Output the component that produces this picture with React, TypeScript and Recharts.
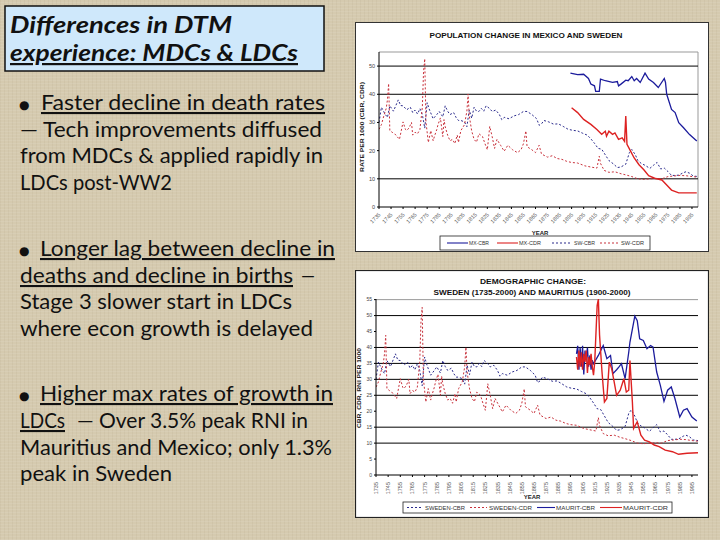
import React from 'react';
import { LineChart, Line, XAxis, YAxis, ReferenceLine } from 'recharts';

// ---------- DATA ----------
const decadeTicks = [1735, 1745, 1755, 1765, 1775, 1785, 1795, 1805, 1815, 1825, 1835, 1845, 1855, 1865, 1875, 1885, 1895, 1905, 1915, 1925, 1935, 1945, 1955, 1965, 1975, 1985, 1995];
const chart1YTicks = [0, 10, 20, 30, 40, 50];
const chart2YTicks = [0, 5, 10, 15, 20, 25, 30, 35, 40, 45, 50, 55];
const chart1Grid = [10, 40, 50];
const chart2Grid = [10, 15, 25, 30, 35, 40, 50];

const swCbrYears = [1735, 1737, 1740, 1742, 1744, 1747, 1750, 1751, 1753, 1755, 1758, 1761, 1763, 1765, 1767, 1769, 1771, 1773, 1775, 1777, 1780, 1783, 1785, 1788, 1790, 1792, 1794, 1797, 1799, 1801, 1803, 1806, 1808, 1810, 1812, 1814, 1816, 1818, 1820, 1822, 1824, 1827, 1829, 1832, 1835, 1837, 1839, 1843, 1847, 1851, 1855, 1858, 1862, 1866, 1868, 1870, 1872, 1876, 1880, 1884, 1888, 1892, 1896, 1900, 1904, 1908, 1911, 1914, 1917, 1920, 1923, 1926, 1930, 1933, 1936, 1940, 1943, 1945, 1948, 1950, 1953, 1956, 1960, 1963, 1966, 1969, 1972, 1975, 1978, 1981, 1984, 1988, 1990, 1993, 1996, 2000];
const swCbrValues = [30, 35.4, 33, 31.8, 35.9, 34, 37, 38, 36, 35.9, 34.5, 35.4, 33.5, 34.4, 33, 34.9, 32.8, 28, 37, 34.4, 31.3, 32.8, 33.9, 32, 35.9, 34, 32.8, 33.5, 31.8, 30.7, 30.7, 30.2, 28.5, 34.4, 31.5, 35.4, 34, 33.9, 35, 34, 35.9, 34.9, 33.9, 34.4, 32.8, 31, 31.8, 31.3, 32.3, 32.8, 33.9, 33.9, 32.8, 31.3, 29, 29.5, 30.7, 30.2, 29.4, 29.5, 28.6, 27.6, 27.2, 27, 26.2, 25.5, 24.2, 22.6, 20.8, 20.5, 18.5, 16.5, 15.2, 14, 14.2, 15.2, 19.3, 20.4, 18.5, 16.5, 15.4, 14.8, 13.7, 14.8, 15.8, 13.5, 13.8, 12.6, 11.2, 11.2, 11.3, 12.2, 12.5, 12, 11, 10.8];

const swCdrYears = [1735, 1737, 1739, 1741, 1742, 1743, 1744, 1746, 1748, 1750, 1752, 1755, 1757, 1758, 1760, 1762, 1763, 1765, 1767, 1769, 1771, 1772, 1773, 1774, 1776, 1778, 1780, 1781, 1783, 1784, 1786, 1788, 1789, 1790, 1792, 1794, 1796, 1798, 1800, 1801, 1803, 1806, 1808, 1809, 1810, 1812, 1814, 1816, 1818, 1821, 1823, 1825, 1827, 1829, 1831, 1833, 1836, 1839, 1842, 1846, 1850, 1853, 1855, 1857, 1858, 1862, 1865, 1868, 1870, 1875, 1879, 1883, 1887, 1891, 1895, 1900, 1906, 1912, 1916, 1918, 1919, 1922, 1926, 1931, 1936, 1940, 1945, 1950, 1955, 1960, 1965, 1970, 1975, 1980, 1985, 1990, 1995, 2000];
const swCdrValues = [27.6, 29.2, 32.3, 35, 38, 43.8, 27.1, 26.5, 26, 25, 24, 30.2, 27.5, 27.1, 28.1, 30, 25.5, 26.5, 26, 27.5, 35.4, 48, 52.6, 30.2, 22.9, 27.1, 23.5, 25, 27.5, 29.2, 31.6, 25, 31, 28.5, 25.5, 23.5, 24, 22.5, 25.5, 22.9, 27.1, 29.2, 34, 40.1, 32.3, 27, 24, 23, 26, 25, 22.5, 20.3, 28.6, 25, 20.8, 24, 21.9, 19.8, 21.9, 20.3, 19.3, 20.3, 22.5, 27, 21.4, 20.3, 19.3, 21.9, 18.8, 17.7, 18.2, 17.2, 16.9, 16.2, 15.8, 15.6, 14.6, 14.1, 13.8, 18, 15.5, 13, 12.3, 12.5, 11.8, 11.4, 10.8, 10, 9.8, 10, 10.1, 10, 10.8, 11, 11.2, 11.1, 10.8, 10.6];

const mxCbrYears = [1894, 1900, 1905, 1909, 1911, 1914, 1915, 1918, 1919, 1923, 1929, 1933, 1934, 1936, 1940, 1942, 1945, 1947, 1949, 1952, 1956, 1959, 1963, 1967, 1972, 1973, 1974, 1978, 1981, 1984, 1988, 1993, 1999];
const mxCbrValues = [47.5, 47, 47.1, 45.6, 43.6, 43, 41, 41, 45.4, 44.8, 44.2, 44.5, 43, 43.6, 45, 44.8, 46.3, 44.8, 45.6, 44.2, 47.5, 45.4, 44.2, 42.4, 45.6, 44.2, 40, 34.6, 33.5, 29.9, 28.1, 25.7, 23.4];

const mxCdrYears = [1895, 1900, 1905, 1911, 1916, 1920, 1923, 1924, 1926, 1929, 1931, 1934, 1937, 1939, 1940, 1941, 1944, 1947, 1951, 1955, 1959, 1964, 1970, 1974, 1978, 1984, 1999];
const mxCdrValues = [35.2, 33.5, 31.1, 29.3, 27.5, 25.8, 26.9, 25.1, 26.9, 25.8, 26.3, 24, 24.5, 23.3, 32.3, 22.2, 19.8, 17.4, 15, 13.2, 11.1, 10.2, 9.6, 7.8, 6, 5, 5];

const muCbrYears = [1900, 1901, 1902, 1903, 1904, 1905, 1906, 1907, 1908, 1909, 1910, 1911, 1912, 1913, 1914, 1918, 1922, 1925, 1928, 1930, 1933, 1935, 1937, 1940, 1943, 1944, 1948, 1950, 1952, 1955, 1958, 1961, 1963, 1966, 1969, 1972, 1975, 1978, 1981, 1985, 1988, 1991, 1995, 1999];
const muCbrValues = [38, 40.5, 33, 40, 34, 40.5, 31.5, 39, 36, 40, 34, 37.5, 33, 36, 34.9, 37.5, 40.6, 36.5, 37.5, 31.8, 33, 33.9, 34.9, 30.2, 38.5, 41.7, 49.8, 48.4, 42.7, 42.2, 39.6, 40.6, 40.1, 32.3, 28.1, 23.1, 26.6, 27.6, 24, 18.2, 20.3, 20.8, 18.2, 16.9];

const muCdrYears = [1900, 1901, 1902, 1903, 1904, 1905, 1906, 1907, 1908, 1909, 1910, 1911, 1912, 1913, 1914, 1915, 1917, 1918, 1919, 1921, 1923, 1925, 1927, 1929, 1931, 1933, 1936, 1939, 1941, 1943, 1944, 1946, 1947, 1950, 1953, 1956, 1960, 1964, 1968, 1973, 1979, 1984, 1991, 2000];
const muCdrValues = [37, 33, 39, 34, 38.5, 33, 38, 35.5, 39, 32, 37, 34.5, 38, 34, 31.3, 35.4, 53.1, 55.2, 43.8, 32.3, 22.9, 24, 35.4, 33.3, 29.2, 25, 26.6, 30.2, 26, 26.6, 35.9, 22.9, 14.6, 16.7, 12.5, 10.9, 10.4, 9.4, 8.9, 7.8, 7.3, 6.5, 6.8, 7];

// ---------- HELPERS ----------
const pair = (years: number[], values: number[]) => years.map((year, i) => ({ year, v: values[i] }));

const FONT = '"Liberation Sans", Arial, sans-serif';
const BLUE = '#1c1c9c';
const RED = '#dd2222';
const BLUE_D = '#2a2a8c';
const RED_D = '#c8323c';

const TiltTick = (props: any) => {
  const { x, y, payload } = props;
  return (
    <text transform={`translate(${x + 2},${y + 4}) rotate(-45)`} textAnchor="end" fontSize={5.5} fill="#555" fontFamily={FONT}>
      {payload.value}
    </text>
  );
};

const VertTick = (props: any) => {
  const { x, y, payload } = props;
  return (
    <text transform={`translate(${x + 2},${y + 3}) rotate(-90)`} textAnchor="end" fontSize={5.5} fill="#555" fontFamily={FONT}>
      {payload.value}
    </text>
  );
};

type LegendEntry = { x1: number; x2: number; tx: number; tw: number; color: string; dash?: string; label: string };

const LegendBox = ({ x, y, w, h, items }: { x: number; y: number; w: number; h: number; items: LegendEntry[] }) => {
  const cy = y + h / 2;
  return (
    <g>
      <rect x={x} y={y} width={w} height={h} fill="#fff" stroke="#222" strokeWidth={0.8} />
      {items.map((it) => (
        <g key={it.label}>
          <line x1={it.x1} x2={it.x2} y1={cy} y2={cy} stroke={it.color} strokeWidth={1.1} strokeDasharray={it.dash} />
          <text x={it.tx} y={cy + 2} fontSize={5.5} fill="#333" fontFamily={FONT} textLength={it.tw} lengthAdjust="spacingAndGlyphs">
            {it.label}
          </text>
        </g>
      ))}
    </g>
  );
};

// ---------- CHART 1 ----------
const Chart1 = () => {
  const W = 354, H = 230;
  return (
    <div style={{ position: 'absolute', left: 355, top: 22, width: W, height: H, background: '#fff' }}>
      <LineChart width={W} height={H} margin={{ top: 30, right: 11, bottom: 25, left: 10 }}>
        <XAxis dataKey="year" type="number" domain={[1735, 2000]} ticks={decadeTicks} interval={0} height={20} tick={<TiltTick />} tickSize={2} stroke="#000" allowDataOverflow />
        <YAxis type="number" domain={[0, 55]} ticks={chart1YTicks} width={14} tick={{ fontSize: 5.5, fill: '#444', fontFamily: FONT }} tickSize={2} stroke="#000" />
        <ReferenceLine y={55} stroke="#999" strokeWidth={1} />
        <ReferenceLine x={2000} stroke="#999" strokeWidth={1} />
        {chart1Grid.map((g) => (
          <ReferenceLine key={g} y={g} stroke="#000" strokeWidth={1} />
        ))}
        <Line data={pair(swCbrYears, swCbrValues)} dataKey="v" stroke={BLUE_D} strokeWidth={1} strokeDasharray="2 2" dot={false} isAnimationActive={false} type="linear" />
        <Line data={pair(swCdrYears, swCdrValues)} dataKey="v" stroke={RED_D} strokeWidth={1} strokeDasharray="2 2" dot={false} isAnimationActive={false} type="linear" />
        <Line data={pair(mxCbrYears, mxCbrValues)} dataKey="v" stroke={BLUE} strokeWidth={1.3} dot={false} isAnimationActive={false} type="linear" />
        <Line data={pair(mxCdrYears, mxCdrValues)} dataKey="v" stroke={RED} strokeWidth={1.4} dot={false} isAnimationActive={false} type="linear" />
      </LineChart>
      <svg width={W} height={H} style={{ position: 'absolute', left: 0, top: 0, pointerEvents: 'none' }}>
        <rect x={0.5} y={0.5} width={W - 1} height={H - 1} fill="none" stroke="#333" strokeWidth={1} />
        <text x={171} y={16} textAnchor="middle" fontSize={7.5} fontWeight="bold" fill="#111" fontFamily={FONT} textLength={193} lengthAdjust="spacingAndGlyphs">
          POPULATION CHANGE IN MEXICO AND SWEDEN
        </text>
        <text transform="translate(9,105) rotate(-90)" textAnchor="middle" fontSize={6} fontWeight="bold" fill="#222" fontFamily={FONT} textLength={90} lengthAdjust="spacingAndGlyphs">
          RATE PER 1000 (CBR, CDR)
        </text>
        <text x={185} y={213} textAnchor="middle" fontSize={6} fontWeight="bold" fill="#222" fontFamily={FONT}>
          YEAR
        </text>
        <LegendBox
          x={85}
          y={214}
          w={210}
          h={14}
          items={[
            { x1: 92, x2: 113, tx: 114, tw: 20, color: BLUE, label: 'MX-CBR' },
            { x1: 142, x2: 163, tx: 164, tw: 22, color: RED, label: 'MX-CDR' },
            { x1: 197, x2: 217, tx: 219, tw: 21, color: BLUE_D, dash: '2 2', label: 'SW-CBR' },
            { x1: 245, x2: 263, tx: 266, tw: 23, color: RED_D, dash: '2 2', label: 'SW-CDR' },
          ]}
        />
      </svg>
    </div>
  );
};

// ---------- CHART 2 ----------
const Chart2 = () => {
  const W = 354, H = 248;
  return (
    <div style={{ position: 'absolute', left: 355, top: 270, width: W, height: H, background: '#fff' }}>
      <LineChart width={W} height={H} margin={{ top: 29, right: 11, bottom: 21, left: 9 }}>
        <XAxis dataKey="year" type="number" domain={[1735, 2000]} ticks={decadeTicks} interval={0} height={22} tick={<VertTick />} tickSize={2} stroke="#000" allowDataOverflow />
        <YAxis type="number" domain={[0, 55]} ticks={chart2YTicks} width={12} tick={{ fontSize: 5, fill: '#444', fontFamily: FONT }} tickSize={2} stroke="#000" />
        <ReferenceLine y={55} stroke="#999" strokeWidth={1} />
        {chart2Grid.map((g) => (
          <ReferenceLine key={g} y={g} stroke="#000" strokeWidth={1} />
        ))}
        <Line data={pair(swCbrYears, swCbrValues)} dataKey="v" stroke={BLUE_D} strokeWidth={1} strokeDasharray="2 2" dot={false} isAnimationActive={false} type="linear" />
        <Line data={pair(swCdrYears, swCdrValues)} dataKey="v" stroke={RED_D} strokeWidth={1} strokeDasharray="2 2" dot={false} isAnimationActive={false} type="linear" />
        <Line data={pair(muCbrYears, muCbrValues)} dataKey="v" stroke={BLUE} strokeWidth={1.3} dot={false} isAnimationActive={false} type="linear" />
        <Line data={pair(muCdrYears, muCdrValues)} dataKey="v" stroke={RED} strokeWidth={1.4} dot={false} isAnimationActive={false} type="linear" />
      </LineChart>
      <svg width={W} height={H} style={{ position: 'absolute', left: 0, top: 0, pointerEvents: 'none' }}>
        <rect x={0.5} y={0.5} width={W - 1} height={H - 1} fill="none" stroke="#222" strokeWidth={1.2} />
        <text x={178} y={14} textAnchor="middle" fontSize={8} fontWeight="bold" fill="#111" fontFamily={FONT} textLength={106} lengthAdjust="spacingAndGlyphs">
          DEMOGRAPHIC CHANGE:
        </text>
        <text x={177} y={25} textAnchor="middle" fontSize={7} fontWeight="bold" fill="#111" fontFamily={FONT} textLength={197} lengthAdjust="spacingAndGlyphs">
          SWEDEN (1735-2000) AND MAURITIUS (1900-2000)
        </text>
        <text transform="translate(6,118) rotate(-90)" textAnchor="middle" fontSize={6} fontWeight="bold" fill="#222" fontFamily={FONT} textLength={80} lengthAdjust="spacingAndGlyphs">
          CBR, CDR, RNI PER 1000
        </text>
        <text x={177} y={229} textAnchor="middle" fontSize={6} fontWeight="bold" fill="#222" fontFamily={FONT}>
          YEAR
        </text>
        <LegendBox
          x={48}
          y={232}
          w={269}
          h={11}
          items={[
            { x1: 52, x2: 67, tx: 70, tw: 40, color: BLUE_D, dash: '2 2', label: 'SWEDEN-CBR' },
            { x1: 115, x2: 132, tx: 134, tw: 43, color: RED_D, dash: '2 2', label: 'SWEDEN-CDR' },
            { x1: 182, x2: 200, tx: 201, tw: 39, color: BLUE, label: 'MAURIT-CBR' },
            { x1: 245, x2: 267, tx: 268, tw: 45, color: RED, label: 'MAURIT-CDR' },
          ]}
        />
      </svg>
    </div>
  );
};

// ---------- LEFT TEXT ----------
type Seg = { x: number; y: number; w: number; t: string; u?: boolean };
const segments: Seg[] = [
  { x: 41, y: 110, w: 284, t: 'Faster decline in death rates', u: true },
  { x: 20, y: 137, w: 302, t: '— Tech improvements diffused' },
  { x: 20, y: 163, w: 303, t: 'from MDCs & applied rapidly in' },
  { x: 20, y: 190, w: 152, t: 'LDCs post-WW2' },
  { x: 40, y: 256, w: 295, t: 'Longer lag between decline in', u: true },
  { x: 20, y: 283, w: 273, t: 'deaths and decline in births', u: true },
  { x: 301, y: 283, w: 14, t: '—' },
  { x: 20, y: 309, w: 272, t: 'Stage 3 slower start in LDCs' },
  { x: 20, y: 336, w: 293, t: 'where econ growth is delayed' },
  { x: 40, y: 401, w: 293, t: 'Higher max rates of growth in', u: true },
  { x: 20, y: 428, w: 45, t: 'LDCs', u: true },
  { x: 77, y: 428, w: 231, t: '— Over 3.5% peak RNI in' },
  { x: 20, y: 455, w: 312, t: 'Mauritius and Mexico; only 1.3%' },
  { x: 20, y: 481, w: 152, t: 'peak in Sweden' },
];
const bulletYs = [110, 256, 401];

const LeftText = () => (
  <svg width={350} height={540} style={{ position: 'absolute', left: 0, top: 0 }}>
    <rect x={5} y={6} width={319} height={65} fill="#cfe8fb" stroke="#111" strokeWidth={1.5} />
    <text x={10} y={33} fontSize={22} fontWeight="bold" fontStyle="italic" fill="#111" fontFamily="Lato, 'DejaVu Sans', sans-serif" textLength={222} lengthAdjust="spacingAndGlyphs">
      Differences in DTM
    </text>
    <text x={10} y={61} fontSize={22} fontWeight="bold" fontStyle="italic" fill="#111" fontFamily="Lato, 'DejaVu Sans', sans-serif" textLength={288} lengthAdjust="spacingAndGlyphs" textDecoration="underline">
      experience: MDCs &amp; LDCs
    </text>
    {bulletYs.map((by) => (
      <text key={by} x={19} y={by - 1} fontSize={12} fill="#111" fontFamily="'DejaVu Sans', sans-serif">
        ●
      </text>
    ))}
    {segments.map((s, i) => (
      <text key={i} x={s.x} y={s.y} fontSize={21} fill="#111" fontFamily="Lato, 'DejaVu Sans', sans-serif" textLength={s.w} lengthAdjust="spacingAndGlyphs" textDecoration={s.u ? 'underline' : undefined}>
        {s.t}
      </text>
    ))}
  </svg>
);

export default function App() {
  return (
    <div
      style={{
        position: 'absolute',
        left: 0,
        top: 0,
        width: 720,
        height: 540,
        overflow: 'hidden',
        background: '#d5caaf',
        backgroundImage:
          'repeating-linear-gradient(0deg, rgba(255,255,255,0.08) 0px, rgba(255,255,255,0.08) 1px, transparent 1px, transparent 3px), repeating-linear-gradient(90deg, rgba(120,100,70,0.06) 0px, rgba(120,100,70,0.06) 1px, transparent 1px, transparent 4px)',
      }}
    >
      <LeftText />
      <Chart1 />
      <Chart2 />
    </div>
  );
}
